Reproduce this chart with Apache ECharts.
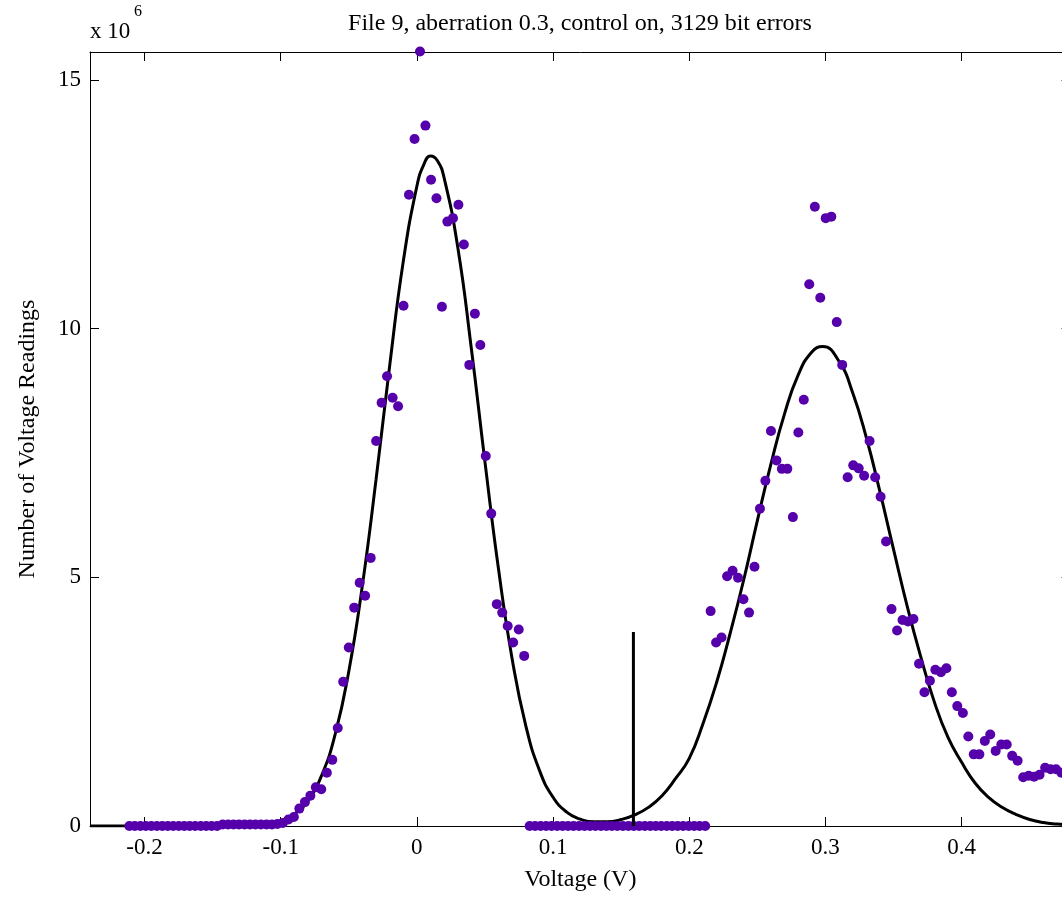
<!DOCTYPE html>
<html>
<head>
<meta charset="utf-8">
<script src="https://cdn.jsdelivr.net/npm/echarts@6/dist/echarts.min.js"></script>
<style>
  html, body { margin: 0; padding: 0; background: #fff; overflow: hidden; }
  #chart { width: 1100px; height: 899px; }
</style>
</head>
<body>
<div id="chart"></div>
<script>
// Histogram bin centres (V) and counts (x 10^6)
const voltage = [
  -0.2111, -0.2071, -0.2030, -0.1990, -0.1950, -0.1909, -0.1869, -0.1829, -0.1789, -0.1748,
  -0.1708, -0.1668, -0.1628, -0.1587, -0.1547, -0.1507, -0.1467, -0.1426, -0.1386, -0.1346,
  -0.1306, -0.1265, -0.1225, -0.1185, -0.1145, -0.1104, -0.1064, -0.1024, -0.0984, -0.0943,
  -0.0903, -0.0863, -0.0822, -0.0782, -0.0742, -0.0702, -0.0661, -0.0621, -0.0581, -0.0541,
  -0.0500, -0.0460, -0.0420, -0.0380, -0.0339, -0.0299, -0.0259, -0.0219, -0.0178, -0.0138,
  -0.0098, -0.0058, -0.0017, 0.0023, 0.0063, 0.0104, 0.0144, 0.0184, 0.0224, 0.0265,
  0.0305, 0.0345, 0.0385, 0.0426, 0.0466, 0.0506, 0.0546, 0.0587, 0.0627, 0.0667,
  0.0707, 0.0748, 0.0788, 0.0828, 0.0868, 0.0909, 0.0949, 0.0989, 0.1030, 0.1070,
  0.1110, 0.1150, 0.1191, 0.1231, 0.1271, 0.1311, 0.1352, 0.1392, 0.1432, 0.1472,
  0.1513, 0.1553, 0.1593, 0.1633, 0.1674, 0.1714, 0.1754, 0.1794, 0.1835, 0.1875,
  0.1915, 0.1955, 0.1996, 0.2036, 0.2076, 0.2117, 0.2157, 0.2197, 0.2237, 0.2278,
  0.2318, 0.2358, 0.2398, 0.2439, 0.2479, 0.2519, 0.2559, 0.2600, 0.2640, 0.2680,
  0.2720, 0.2761, 0.2801, 0.2841, 0.2881, 0.2922, 0.2962, 0.3002, 0.3043, 0.3083,
  0.3123, 0.3163, 0.3204, 0.3244, 0.3284, 0.3324, 0.3365, 0.3405, 0.3445, 0.3485,
  0.3526, 0.3566, 0.3606, 0.3646, 0.3687, 0.3727, 0.3767, 0.3807, 0.3848, 0.3888,
  0.3928, 0.3968, 0.4009, 0.4049, 0.4089, 0.4130, 0.4170, 0.4210, 0.4250, 0.4291,
  0.4331, 0.4371, 0.4411, 0.4452, 0.4492, 0.4532, 0.4572, 0.4613, 0.4653, 0.4693,
  0.4733
];
const readings = [
  0, 0, 0, 0, 0, 0, 0, 0, 0, 0,
  0, 0, 0, 0, 0, 0, 0, 0.03, 0.03, 0.03,
  0.03, 0.03, 0.03, 0.03, 0.03, 0.03, 0.03, 0.04, 0.06, 0.13,
  0.18, 0.35, 0.48, 0.61, 0.78, 0.74, 1.07, 1.33, 1.97, 2.90,
  3.59, 4.39, 4.89, 4.63, 5.39, 7.74, 8.51, 9.04, 8.61, 8.44,
  10.46, 12.69, 13.81, 15.57, 14.08, 12.99, 12.62, 10.44, 12.15, 12.22,
  12.49, 11.69, 9.27, 10.30, 9.67, 7.44, 6.28, 4.46, 4.29, 4.02,
  3.69, 3.95, 3.42, 0, 0, 0, 0, 0, 0, 0,
  0, 0, 0, 0, 0, 0, 0, 0, 0, 0,
  0, 0, 0, 0, 0, 0, 0, 0, 0, 0,
  0, 0, 0, 0, 0, 0, 4.32, 3.69, 3.79, 5.02,
  5.13, 4.99, 4.56, 4.29, 5.21, 6.38, 6.94, 7.94, 7.35, 7.18,
  7.18, 6.21, 7.91, 8.57, 10.89, 12.45, 10.62, 12.22, 12.25, 10.13,
  9.27, 7.01, 7.25, 7.19, 7.04, 7.74, 7.01, 6.62, 5.72, 4.36,
  3.93, 4.14, 4.11, 4.16, 3.26, 2.69, 2.92, 3.14, 3.09, 3.17,
  2.69, 2.41, 2.27, 1.80, 1.44, 1.44, 1.71, 1.84, 1.51, 1.64,
  1.64, 1.41, 1.31, 0.98, 1.01, 0.99, 1.03, 1.17, 1.14, 1.14,
  1.07
];
// Fitted curve
const fitVoltage = [
  -0.24, -0.23, -0.22, -0.21, -0.20, -0.19, -0.18, -0.17, -0.16, -0.15,
  -0.14, -0.13, -0.12, -0.11, -0.10, -0.09, -0.08, -0.07, -0.06, -0.05,
  -0.04, -0.03, -0.02, -0.01, 0.00, 0.005, 0.01, 0.015, 0.02, 0.03,
  0.04, 0.05, 0.06, 0.07, 0.08, 0.09, 0.10, 0.11, 0.12, 0.13,
  0.14, 0.15, 0.16, 0.17, 0.18, 0.19, 0.20, 0.21, 0.22, 0.23,
  0.24, 0.25, 0.26, 0.27, 0.28, 0.29, 0.298, 0.31, 0.32,
  0.33, 0.34, 0.35, 0.36, 0.37, 0.38, 0.39, 0.40, 0.41, 0.42,
  0.43, 0.44, 0.45, 0.46, 0.47, 0.48
];
const fitReadings = [
  0, 0, 0, 0, 0, 0, 0, 0, 0, 0.001,
  0.002, 0.005, 0.015, 0.041, 0.103, 0.239, 0.511, 1.011, 1.843, 3.106,
  4.838, 6.958, 9.246, 11.346, 12.861, 13.29, 13.47, 13.38, 13.03, 11.64,
  9.60, 7.32, 5.155, 3.354, 2.015, 1.12, 0.577, 0.28, 0.137, 0.083,
  0.085, 0.13, 0.222, 0.374, 0.609, 0.956, 1.36, 2.05, 2.88, 3.87,
  4.95, 6.14, 7.28, 8.29, 9.07, 9.53, 9.64, 9.34, 8.71,
  7.81, 6.72, 5.56, 4.42, 3.40, 2.49, 1.78, 1.28, 0.86, 0.57,
  0.37, 0.23, 0.13, 0.07, 0.04, 0.02
];
// Decision threshold marker
const thresholdVoltage = [0.159, 0.159];
const thresholdReadings = [0, 3.9];

const xTicks = [-0.2, -0.1, 0, 0.1, 0.2, 0.3, 0.4];
const yTicks = [0, 5, 10, 15];
const xRange = [-0.24, 0.48];
const yRange = [0, 15.56];

const titleText = 'File 9, aberration 0.3, control on, 3129 bit errors';
const xName = 'Voltage (V)';
const yName = 'Number of Voltage Readings';

const font = '"Liberation Serif", "Times New Roman", serif';

const zip = (a, b) => a.map((v, i) => [v, b[i]]);

const chart = echarts.init(document.getElementById('chart'), null, { renderer: 'canvas' });

const axisCommon = {
  axisLine: { show: true, onZero: false, lineStyle: { color: '#000', width: 1 } },
  splitLine: { show: false }
};

chart.setOption({
  animation: false,
  backgroundColor: '#fff',
  grid: { left: 90, top: 52, width: 980.6, height: 774, containLabel: false },
  graphic: [
    { type: 'text', x: 580, y: 12, style: { text: titleText, font: '24px ' + font, fill: '#000', align: 'center', textAlign: 'center' } },
    { type: 'text', x: 90, y: 20, style: { text: 'x 10', font: '23px ' + font, fill: '#000' } },
    { type: 'text', x: 134, y: 4, style: { text: '6', font: '16px ' + font, fill: '#000' } }
  ],
  xAxis: [
    Object.assign({}, axisCommon, {
      type: 'value', position: 'bottom', min: xRange[0], max: xRange[1],
      name: xName, nameLocation: 'middle', nameGap: 42,
      nameTextStyle: { fontFamily: font, fontSize: 24, color: '#000' },
      axisTick: { show: true, inside: true, length: 9, customValues: xTicks, lineStyle: { color: '#000' } },
      axisLabel: { show: true, customValues: xTicks, margin: 10, fontFamily: font, fontSize: 23, color: '#000',
        formatter: v => String(Math.round(v * 10) / 10) }
    }),
    Object.assign({}, axisCommon, {
      type: 'value', position: 'top', min: xRange[0], max: xRange[1],
      axisTick: { show: true, inside: true, length: 9, customValues: xTicks, lineStyle: { color: '#000' } },
      axisLabel: { show: false }
    })
  ],
  yAxis: [
    Object.assign({}, axisCommon, {
      type: 'value', position: 'left', min: yRange[0], max: yRange[1],
      name: yName, nameLocation: 'middle', nameGap: 50,
      nameTextStyle: { fontFamily: font, fontSize: 24, color: '#000' },
      axisTick: { show: true, inside: true, length: 9, customValues: yTicks, lineStyle: { color: '#000' } },
      axisLabel: { show: true, customValues: yTicks, margin: 9, fontFamily: font, fontSize: 23, color: '#000' }
    }),
    Object.assign({}, axisCommon, {
      type: 'value', position: 'right', min: yRange[0], max: yRange[1],
      axisTick: { show: true, inside: true, length: 9, customValues: yTicks, lineStyle: { color: '#000' } },
      axisLabel: { show: false }
    })
  ],
  series: [
    {
      type: 'line', name: 'fit', xAxisIndex: 0, yAxisIndex: 0,
      data: zip(fitVoltage, fitReadings),
      showSymbol: false, smooth: 0.5,
      lineStyle: { color: '#000', width: 3 }, z: 2
    },
    {
      type: 'scatter', name: 'data', xAxisIndex: 0, yAxisIndex: 0,
      data: zip(voltage, readings),
      symbol: 'circle', symbolSize: 10,
      itemStyle: { color: '#5500aa', opacity: 1 }, z: 3, clip: false
    },
    {
      type: 'line', name: 'threshold', xAxisIndex: 0, yAxisIndex: 0,
      data: zip(thresholdVoltage, thresholdReadings),
      showSymbol: false, lineStyle: { color: '#000', width: 3 }, z: 4
    }
  ]
});
</script>
</body>
</html>
